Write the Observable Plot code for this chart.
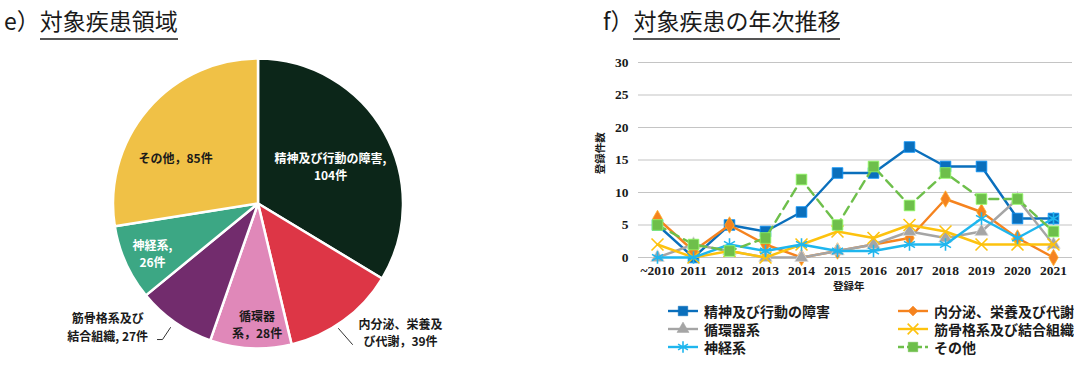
<!DOCTYPE html>
<html><head><meta charset="utf-8">
<script src="https://cdn.jsdelivr.net/npm/d3@7"></script>
<script src="https://cdn.jsdelivr.net/npm/@observablehq/plot@0.6"></script>
<style>
body{margin:0;background:#fff;width:1074px;height:369px;overflow:hidden;position:relative;font-family:"Noto Sans CJK JP","Noto Sans",sans-serif;color:#1a1a1a;}
.title{position:absolute;font-size:23px;white-space:nowrap;line-height:1;}
.title span.u{border-bottom:2px solid #555;padding-bottom:1px;}
#pie{position:absolute;left:0;top:0;}
#line{position:absolute;left:600px;top:45px;}
.lg{position:absolute;display:flex;align-items:center;font-size:14px;font-weight:bold;white-space:nowrap;line-height:1;}
.lg svg{margin-right:6px;}
.axt{position:absolute;font-size:10.5px;font-weight:bold;white-space:nowrap;line-height:1;}
</style></head>
<body>
<div class="title" style="left:4px;top:9px;">e）<span class="u">対象疾患領域</span></div>
<div class="title" style="left:603px;top:9px;">f）<span class="u">対象疾患の年次推移</span></div>
<div id="pie"></div>
<div id="line"></div>
<div class="axt" style="left:579px;top:148px;transform:rotate(-90deg);transform-origin:center;">登録件数</div>
<div class="axt" style="left:833px;top:281px;">登録年</div>
<div id="legend"></div>
<script>
// ---------- data ----------
const pieCategories = ["精神及び行動の障害","内分泌、栄養及び代謝","循環器系","筋骨格系及び結合組織","神経系","その他"];
const pieValues = [104, 39, 28, 27, 26, 85];
const pieLabels = ["精神及び行動の障害,\n104件","内分泌、栄養及\nび代謝，39件","循環器\n系，28件","筋骨格系及び\n結合組織, 27件","神経系,\n26件","その他，85件"];

const years = ["~2010","2011","2012","2013","2014","2015","2016","2017","2018","2019","2020","2021"];
const seriesNames = ["精神及び行動の障害","内分泌、栄養及び代謝","循環器系","筋骨格系及び結合組織","神経系","その他"];
const mental      = [5, 0, 5, 4, 7, 13, 13, 17, 14, 14, 6, 6];
const endocrine   = [6, 1, 5, 2, 0, 1, 2, 3, 9, 7, 3, 0];
const circulatory = [0, 2, 1, 0, 0, 1, 2, 4, 3, 4, 9, 2];
const musculo     = [2, 0, 1, 0, 2, 4, 3, 5, 4, 2, 2, 2];
const nervous     = [0, 0, 2, 1, 2, 1, 1, 2, 2, 6, 3, 6];
const other       = [5, 2, 1, 3, 12, 5, 14, 8, 13, 9, 9, 4];
const yTicks = [0, 5, 10, 15, 20, 25, 30];

// ---------- styles / layout ----------
const pieColors = ["#0c2619","#dd3646","#e088b9","#722c6d","#3ca784","#f0c146"];
const pieLabelColors = ["#fff","#1a1a1a","#1a1a1a","#1a1a1a","#fff","#1a1a1a"];
const labelPos = [[0.497,0.262],[0.979,-0.885],[-0.01,-0.828],[-1.04,-0.848],[-0.731,-0.34],[-0.572,0.324]];
const leaders = [
  {pts:[[0.552,-0.862],[0.648,-0.972]]},
  {pts:[[-0.697,-0.938],[-0.662,-0.938],[-0.607,-0.855]]}
];
const seriesColors = ["#0a6fbc","#f5831f","#a5a5a5","#fdc20e","#1fb6ee","#6ebf4b"];
const seriesSymbols = ["square","diamond","triangle","times","asterisk","square"];
const seriesR = [6, 5, 5, 5.5, 6, 6];
const seriesDash = [null,null,null,null,null,"9,6"];

// ---------- pie ----------
const pieData = pieCategories.map((c,i)=>({category:c, value:pieValues[i], label:pieLabels[i], x:labelPos[i][0], y:labelPos[i][1], color:pieLabelColors[i]}));
const leaderRows = leaders.flatMap((l,k)=>l.pts.map(p=>({k, x:p[0], y:p[1]})));

function pieMark(index, scales) {
  const cx = scales.x(0), cy = scales.y(0), r = scales.x(1) - scales.x(0);
  const arcs = d3.pie().sort(null).value(d=>d)(pieValues);
  const arc = d3.arc().innerRadius(0).outerRadius(r);
  const g = d3.create("svg:g").attr("transform", `translate(${cx},${cy})`);
  g.selectAll("path").data(arcs).join("path")
    .attr("d", arc)
    .attr("fill", (d,i)=>pieColors[i])
    .attr("stroke", "#fff").attr("stroke-width", 2.5).attr("stroke-linejoin","round");
  return g.node();
}

const pie = Plot.plot({
  width: 560, height: 369,
  marginLeft: 113, marginRight: 157, marginTop: 59, marginBottom: 21,
  x: {domain: [-1, 1], axis: null},
  y: {domain: [-1, 1], axis: null},
  style: {fontFamily: '"Noto Sans CJK JP", sans-serif', background: "transparent"},
  marks: [
    pieMark,
    Plot.line(leaderRows, {x:"x", y:"y", z:"k", stroke:"#333", strokeWidth:1}),
    Plot.text(pieData, {x:"x", y:"y", text:"label", fill:d=>d.color, fontSize:12, fontWeight:"bold", lineHeight:1.45})
  ]
});
document.getElementById("pie").appendChild(pie);

// ---------- line chart ----------
const seriesValues = [mental, endocrine, circulatory, musculo, nervous, other];
const rows = seriesNames.flatMap((name,k)=>seriesValues[k].map((v,i)=>({series:name, k, year:years[i], value:v})));

const lineMarks = [Plot.ruleY(yTicks, {stroke:"#c4c4c4", strokeWidth:1.2})];
seriesNames.forEach((name,k)=>{
  const d = rows.filter(r=>r.k===k);
  lineMarks.push(Plot.line(d, {x:"year", y:"value", stroke:seriesColors[k], strokeWidth:2.4, strokeDasharray:seriesDash[k] || undefined}));
  const filled = ["square","diamond","triangle"].includes(seriesSymbols[k]);
  lineMarks.push(Plot.dot(d, filled
    ? {x:"year", y:"value", symbol:()=>seriesSymbols[k], r:seriesR[k], fill:seriesColors[k], stroke:d3.color(seriesColors[k]).brighter(0.8).formatHex(), strokeWidth:0.8}
    : {x:"year", y:"value", symbol:()=>seriesSymbols[k], r:seriesR[k], fill:"none", stroke:seriesColors[k], strokeWidth:1.6}));
});

const line = Plot.plot({
  width: 474, height: 250,
  marginLeft: 38, marginRight: 2, marginTop: 17, marginBottom: 38,
  x: {type:"point", domain: years, padding: 0.5, label: null, tickSize: 0, tickPadding: 8},
  y: {domain: [0, 30], ticks: yTicks, label: null, tickSize: 0, tickPadding: 10},
  symbol: {type:"identity"},
  style: {fontFamily: '"Liberation Serif", serif', fontWeight: "bold", fontSize: "13.5px", color:"#1a1a1a", background:"transparent"},
  marks: lineMarks
});
document.getElementById("line").appendChild(line);

// ---------- legend ----------
const legendPos = [[668,311],[898,311],[668,329],[898,329],[668,347],[898,347]];
const legend = document.getElementById("legend");
seriesNames.forEach((name,k)=>{
  const div = document.createElement("div");
  div.className = "lg";
  div.style.left = legendPos[k][0] + "px";
  div.style.top = (legendPos[k][1] - 9) + "px";
  const svg = d3.create("svg").attr("width", 30).attr("height", 18);
  svg.append("line").attr("x1",0).attr("x2",30).attr("y1",9).attr("y2",9)
    .attr("stroke", seriesColors[k]).attr("stroke-width", 2.4)
    .attr("stroke-dasharray", seriesDash[k] ? "6,3" : null);
  const symMap = {square:d3.symbolSquare, diamond:d3.symbolDiamond2, triangle:d3.symbolTriangle, times:d3.symbolTimes, asterisk:d3.symbolAsterisk};
  const filled = ["square","diamond","triangle"].includes(seriesSymbols[k]);
  svg.append("path").attr("transform","translate(15,9)")
    .attr("d", d3.symbol(symMap[seriesSymbols[k]], Math.PI*seriesR[k]*seriesR[k]*0.8)())
    .attr("fill", filled ? seriesColors[k] : "none")
    .attr("stroke", seriesColors[k]).attr("stroke-width", filled ? 0.5 : 1.6);
  div.appendChild(svg.node());
  const t = document.createElement("span");
  t.textContent = name;
  div.appendChild(t);
  legend.appendChild(div);
});
</script>
</body></html>
